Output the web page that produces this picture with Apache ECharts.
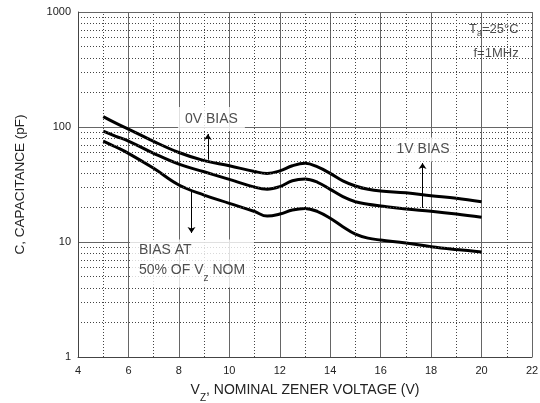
<!DOCTYPE html>
<html>
<head>
<meta charset="utf-8">
<script src="https://cdn.jsdelivr.net/npm/echarts@6/dist/echarts.min.js"></script>
<style>
html,body{margin:0;padding:0;background:#fff;}
#c{width:540px;height:403px;}
</style>
</head>
<body>
<div id="c"></div>
<script>
// ---- data ----
var vz = [5, 5.5, 6, 7, 8, 9, 10, 11, 11.5, 12, 12.5, 13, 13.5, 14, 14.5, 15, 15.5, 16, 17, 18, 19, 20];
var bias0V = [123, 108, 96, 75, 60, 51, 46, 41, 39.5, 41.5, 46, 48.3, 45, 39.5, 34, 30.7, 28.7, 27.7, 26.8, 25.3, 24, 22.4];
var bias1V = [92, 83, 75.5, 59, 47.5, 40.8, 35, 30, 28.8, 30.3, 34.1, 35.3, 33, 28.7, 24.8, 22.4, 21.3, 20.6, 19.4, 18.5, 17.5, 16.4];
var bias50 = [75.5, 67, 59, 43.7, 31.3, 25.6, 21.7, 18.4, 16.8, 17.5, 19, 19.6, 18.4, 16.1, 13.6, 11.7, 10.8, 10.4, 9.8, 9.1, 8.6, 8.2];
var xTicks = [4, 6, 8, 10, 12, 14, 16, 18, 20, 22];
var yTickLabels = ['1', '10', '100', '1000'];
var xMinor = [5, 7, 9, 11, 13, 15, 17, 19, 21];
var yMinor = [2, 3, 4, 5, 6, 7, 8, 9, 20, 30, 40, 50, 60, 70, 80, 90, 200, 300, 400, 500, 600, 700, 800, 900];
// annotation arrows: [x, fromY, toY]
var arrow0V = [9.15, 52, 87];
var arrow1V = [17.66, 19.8, 48.6];
var arrow50 = [8.5, 28, 12];
// annotation anchors
var label0V = [9.29, 117.4];
var label1V = [17.68, 63.7];
var label50 = [6.06, 6.5];
var labelCond = [21.47, 505];

function pair(a, b) { return a.map(function (v, i) { return [v, b[i]]; }); }
function arrow(a) {
  return [{ coord: [a[0], a[1]] }, { coord: [a[0], a[2]] }];
}

var font = '"Liberation Sans", Arial, sans-serif';
var txt = '#222';

var chart = echarts.init(document.getElementById('c'), null, { renderer: 'canvas' });
var curveStyle = { color: '#000', width: 3 };

var option = {
  animation: false,
  backgroundColor: '#fff',
  grid: { left: 78, right: 8, top: 12, bottom: 46, containLabel: false, outerBoundsMode: 'none' },
  xAxis: {
    type: 'value', min: 4, max: 22, interval: 2,
    name: '{a|V}{s|Z}{a|, NOMINAL ZENER VOLTAGE (V)}',
    nameLocation: 'middle', nameGap: 26,
    nameTextStyle: {
      rich: {
        a: { fontFamily: font, fontSize: 14, color: txt, lineHeight: 20, verticalAlign: 'top' },
        s: { fontFamily: font, fontSize: 10, color: txt, lineHeight: 9, verticalAlign: 'bottom' }
      }
    },
    axisLine: { show: true, lineStyle: { color: '#444', width: 1 } },
    axisTick: { show: false },
    axisLabel: { fontFamily: font, fontSize: 11, color: txt, margin: 8,
      formatter: function (v) { return xTicks.indexOf(v) >= 0 ? String(v) : ''; } },
    splitLine: { show: true, lineStyle: { color: '#666', width: 1 } }
  },
  yAxis: {
    type: 'log', logBase: 10, min: 1, max: 1000,
    name: 'C, CAPACITANCE (pF)',
    nameLocation: 'middle', nameGap: 51, nameRotate: 90,
    nameTextStyle: { fontFamily: font, fontSize: 13.5, color: txt },
    axisLine: { show: true, lineStyle: { color: '#444', width: 1 } },
    axisTick: { show: false },
    axisLabel: { fontFamily: font, fontSize: 11, color: txt, margin: 7,
      formatter: function (v) { return yTickLabels[Math.round(Math.log10(v))] || ''; } },
    splitLine: { show: true, lineStyle: { color: '#666', width: 1 } }
  },
  series: [
    {
      type: 'line', data: [], silent: true, z: 1,
      markLine: {
        silent: true, symbol: ['none', 'none'], label: { show: false },
        lineStyle: { color: '#444', width: 1, type: [1, 2] },
        emphasis: { disabled: true },
        data: xMinor.map(function (v) { return { xAxis: v }; })
          .concat(yMinor.map(function (v) { return { yAxis: v }; }))
      }
    },
    { type: 'line', name: '0V', data: pair(vz, bias0V), smooth: 0.4, showSymbol: false, lineStyle: curveStyle, z: 3 },
    { type: 'line', name: '1V', data: pair(vz, bias1V), smooth: 0.4, showSymbol: false, lineStyle: curveStyle, z: 3 },
    { type: 'line', name: '50%', data: pair(vz, bias50), smooth: 0.4, showSymbol: false, lineStyle: curveStyle, z: 3 },
    {
      type: 'line', data: [], silent: true, z: 4,
      markLine: {
        silent: true, symbol: ['none', 'arrow'], symbolSize: 6, label: { show: false },
        lineStyle: { color: '#000', width: 1, type: 'solid' },
        emphasis: { disabled: true },
        data: [arrow(arrow0V), arrow(arrow1V), arrow(arrow50)]
      }
    },
    {
      type: 'scatter', symbolSize: 0, silent: true, z: 5,
      data: [
        { value: label0V, label: { formatter: '0V BIAS', padding: [5, 7], backgroundColor: '#fff' } },
        { value: label1V, label: { formatter: '1V BIAS', padding: [5, 5], backgroundColor: '#fff' } },
        {
          value: label50,
          label: {
            align: 'left',
            formatter: '{a|BIAS AT}\n{a|50% OF V}{s|z}{a| NOM}',
            padding: [4, 9, 4, 9], backgroundColor: '#fff',
            rich: {
              a: { fontFamily: font, fontSize: 14, color: txt, lineHeight: 20, verticalAlign: 'top' },
              s: { fontFamily: font, fontSize: 10, color: txt, lineHeight: 9, verticalAlign: 'bottom' }
            }
          }
        },
        {
          value: labelCond,
          label: {
            align: 'right',
            formatter: '{a|T}{s|a}{a|=25°C}\n{b|f=1MHz}',
            rich: {
              a: { fontFamily: font, fontSize: 13, color: txt, lineHeight: 15, verticalAlign: 'top', align: 'right' },
              s: { fontFamily: font, fontSize: 9, color: txt, lineHeight: 8, verticalAlign: 'bottom', align: 'right' },
              b: { fontFamily: font, fontSize: 13, color: txt, lineHeight: 31, verticalAlign: 'middle', align: 'right' }
            }
          }
        }
      ],
      label: {
        show: true, position: 'inside', fontFamily: font, fontSize: 14, color: txt
      }
    }
  ]
};
chart.setOption(option);
</script>
</body>
</html>
